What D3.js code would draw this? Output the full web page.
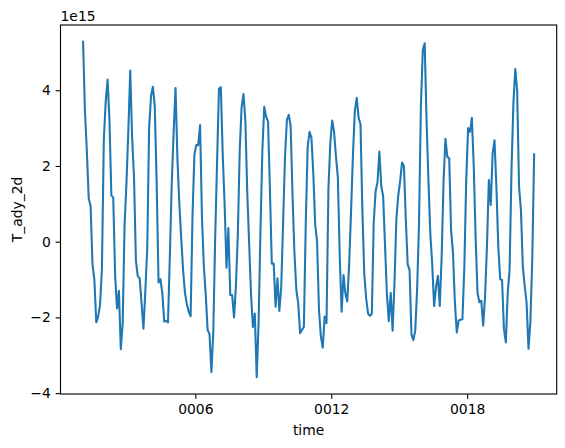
<!DOCTYPE html>
<html>
<head>
<meta charset="utf-8">
<script src="https://cdn.jsdelivr.net/npm/d3@7"></script>
<style>
  body { margin: 0; background: #fff; }
  text { font-family: "DejaVu Sans", sans-serif; fill: #000; }
</style>
</head>
<body>
<div id="chart"></div>
<script>
// monthly T_ady_2d, units of 1e15, years 0001..0020
const values = [
  5.28, 3.45, 2.4, 1.15, 0.95, -0.6, -1.0, -2.13, -1.98, -1.67, -0.71, 2.7,
  3.7, 4.28, 3.2, 1.22, 1.17, -0.9, -1.76, -1.3, -2.84, -2.15, 0.45, 1.55,
  2.95, 4.52, 2.75, 1.7, -0.5, -0.91, -0.97, -1.63, -2.3, -1.3, -0.2, 3.0,
  3.84, 4.09, 3.58, 1.55, -1.08, -0.99, -1.36, -2.11, -2.09, -2.13, -0.35, 1.55,
  2.9, 4.06, 2.2, 1.0, 0.1, -0.75, -1.35, -1.65, -1.85, -1.97, 0.7, 2.3,
  2.55, 2.55, 3.08, 0.65, -0.65, -1.4, -2.33, -2.44, -3.45, -2.4, 0.1, 2.1,
  4.04, 4.08, 2.3, 1.0, -0.69, 0.36, -1.41, -1.41, -2.0, -1.15, 0.2, 2.4,
  3.55, 3.9, 3.2, 1.3, -0.05, -1.4, -2.25, -1.9, -3.58, -2.15, 0.3, 2.4,
  3.56, 3.3, 3.18, 1.4, -0.58, -0.58, -1.72, -0.97, -1.83, -1.19, 0.5, 2.25,
  3.22, 3.35, 3.05, 1.2, -0.3, -1.27, -1.63, -2.42, -2.33, -2.25, 0.5, 2.5,
  2.9, 2.75, 1.8, 0.45, 0.0, -1.8, -2.5, -2.8, -1.98, -2.15, 1.4, 2.6,
  3.2, 2.9, 2.25, 1.7, -0.4, -1.85, -0.88, -1.37, -1.58, -0.58, 0.82, 2.3,
  3.45, 3.8, 3.27, 3.1, 0.8, -0.85, -1.5, -1.9, -1.96, -1.9, 0.5, 1.33,
  1.57, 2.38, 1.47, 1.2, -0.1, -1.4, -2.1, -1.35, -2.35, -1.1, 0.6, 1.22,
  1.6, 2.09, 2.0, 0.6, -0.6, -0.75, -2.45, -2.6, -2.35, -1.25, 0.5, 3.6,
  5.05, 5.24, 3.2, 1.6, 0.2, -0.6, -1.7, -1.2, -0.9, -1.7, -0.4, 1.6,
  2.72, 2.24, 2.2, 0.3, -0.3, -1.6, -2.4, -2.08, -2.06, -2.05, -0.7, 1.6,
  3.0, 2.9, 3.27, 2.0, 0.1, -1.35, -1.6, -1.56, -2.22, -1.43, -0.12, 1.63,
  0.97, 2.33, 2.68, 1.45, -0.12, -0.99, -1.01, -2.31, -2.66, -1.35, -0.73, 1.89,
  3.64, 4.56, 3.99, 1.45, 0.84, -0.65, -1.17, -1.61, -2.83, -2.13, -0.47, 2.31
];
const startYear = 1;
const xTicks = [6, 12, 18];
const yTicks = [-4, -2, 0, 2, 4];

// mid-month time stamps as fractional years
const data = values.map((v, i) => ({
  t: startYear + Math.floor(i / 12) + ((i % 12) + 0.5) / 12,
  v: v
}));

const W = 565, H = 448;
const margin = { top: 25, right: 8.3, bottom: 54, left: 60.5 };
const width = W - margin.left - margin.right;
const height = H - margin.top - margin.bottom;

const svg = d3.select("#chart")
  .append("svg")
  .attr("width", W)
  .attr("height", H)
  .append("g")
  .attr("transform", `translate(${margin.left},${margin.top})`);

// matplotlib style 5% margins
const tExt = d3.extent(data, d => d.t);
const vExt = d3.extent(data, d => d.v);
const tPad = (tExt[1] - tExt[0]) * 0.05;
const vPad = (vExt[1] - vExt[0]) * 0.05;

const xScale = d3.scaleLinear()
  .domain([tExt[0] - tPad, tExt[1] + tPad])
  .range([0, width]);

const yScale = d3.scaleLinear()
  .domain([vExt[0] - vPad, vExt[1] + vPad])
  .range([height, 0]);

const tickLen = 4.86;
const fontSize = "13.9px";

const xAxis = d3.axisBottom(xScale)
  .tickValues(xTicks)
  .tickFormat(d3.format("04d"))
  .tickSize(tickLen)
  .tickPadding(4.86);

const yAxis = d3.axisLeft(yScale)
  .tickValues(yTicks)
  .tickFormat(d3.format("d"))
  .tickSize(tickLen)
  .tickPadding(4.86);

svg.append("g")
  .attr("class", "x-axis")
  .attr("transform", `translate(0,${height})`)
  .call(xAxis);

svg.append("g")
  .attr("class", "y-axis")
  .call(yAxis);

svg.selectAll(".x-axis .domain, .y-axis .domain").remove();
svg.selectAll(".tick line").attr("stroke", "#000").attr("stroke-width", 1.11);
svg.selectAll(".tick text")
  .style("font-family", "DejaVu Sans")
  .style("font-size", fontSize)
  .attr("fill", "#000");

const line = d3.line()
  .x(d => xScale(d.t))
  .y(d => yScale(d.v));

svg.append("path")
  .datum(data)
  .attr("fill", "none")
  .attr("stroke", "#1f77b4")
  .attr("stroke-width", 2.08)
  .attr("stroke-linejoin", "round")
  .attr("stroke-linecap", "square")
  .attr("d", line);

// spines
svg.append("rect")
  .attr("x", 0)
  .attr("y", 0)
  .attr("width", width)
  .attr("height", height)
  .attr("fill", "none")
  .attr("stroke", "#000")
  .attr("stroke-width", 1.11);

svg.append("text")
  .attr("class", "x-axis-label")
  .attr("x", width / 2)
  .attr("y", height + 41)
  .style("text-anchor", "middle")
  .style("font-size", fontSize)
  .text("time");

svg.append("text")
  .attr("class", "y-axis-label")
  .attr("x", -height / 2)
  .attr("y", -margin.left + 22)
  .attr("transform", "rotate(-90)")
  .style("text-anchor", "middle")
  .style("font-size", fontSize)
  .text("T_ady_2d");

svg.append("text")
  .attr("class", "offset-label")
  .attr("x", 0)
  .attr("y", -4.5)
  .style("font-size", fontSize)
  .text("1e15");
</script>
</body>
</html>
